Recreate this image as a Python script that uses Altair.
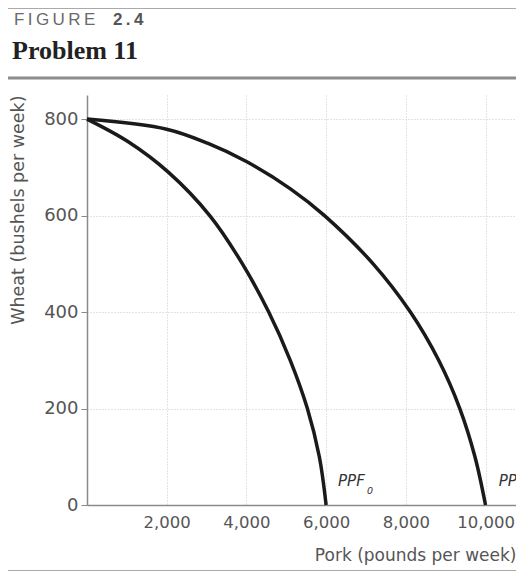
import altair as alt
import pandas as pd

# --- data ---
ppf0_pork = [0, 1016, 2040, 3080, 3900, 4560, 5100, 5530, 5830, 6000]
ppf0_wheat = [800, 754, 690, 600, 500, 400, 300, 200, 100, 0]
ppf1_pork = [0, 2000, 3024, 4000, 5114, 5960, 7180, 8115, 8825, 9355, 9735, 10000]
ppf1_wheat = [800, 779, 750, 712, 655, 600, 500, 400, 300, 200, 100, 0]

x_ticks = [2000, 4000, 6000, 8000, 10000]
y_ticks = [0, 200, 400, 600, 800]

curve_labels = ["PPF", "PPF"]
curve_subs = ["0", "1"]
label_pork = [6300, 10330]
label_wheat = [50, 50]

fig_word = ["F\u2009I\u2009G\u2009U\u2009R\u2009E"]
fig_num = ["2\u2009.\u20094"]
fig_title = ["Problem 11"]

W, H = 429, 410
PL = 79

d0 = pd.DataFrame({"pork": ppf0_pork, "wheat": ppf0_wheat, "curve": "PPF0"})
d0["idx"] = range(len(d0))
d1 = pd.DataFrame({"pork": ppf1_pork, "wheat": ppf1_wheat, "curve": "PPF1"})
d1["idx"] = range(len(d1))
lines = pd.concat([d0, d1])
labels = pd.DataFrame({"pork": label_pork, "wheat": label_wheat,
                       "txt": curve_labels, "sub": curve_subs})

xs = alt.Scale(domain=[0, 10765], nice=False)
ys = alt.Scale(domain=[0, 850], nice=False)

FONT = "DejaVu Sans"
TXT = "#555"

curves = alt.Chart(lines).mark_line(
    interpolate="catmull-rom", strokeWidth=3.5, color="#1a1a1a"
).encode(
    x=alt.X("pork:Q", scale=xs, axis=alt.Axis(
        values=x_ticks, format=",d", title="Pork (pounds per week)",
        ticks=False, labelPadding=9, labelFontSize=16.5, labelColor=TXT,
        labelFont=FONT, domainColor="#8a8a8a", domainWidth=1.5,
        grid=True, gridColor="#c8c8c8", gridDash=[1, 2], gridWidth=1,
        titleX=W, titleY=50, titleAlign="right", titleBaseline="middle",
        titleFont=FONT, titleFontSize=17, titleFontWeight="normal",
        titleColor=TXT)),
    y=alt.Y("wheat:Q", scale=ys, axis=alt.Axis(
        values=y_ticks, title="Wheat (bushels per week)",
        tickSize=6, tickColor="#8a8a8a", labelPadding=3, labelFontSize=18,
        labelColor=TXT, labelFont=FONT, domainColor="#8a8a8a",
        domainWidth=1.5, grid=True, gridColor="#c8c8c8", gridDash=[1, 2],
        gridWidth=1, titleX=-(PL - 10), titleY=0, titleAngle=-90,
        titleAlign="right", titleBaseline="middle", titleFont=FONT,
        titleFontSize=17.5, titleFontWeight="normal", titleColor=TXT)),
    detail="curve:N",
    order="idx:Q",
)

lab_main = alt.Chart(labels).mark_text(
    align="left", baseline="middle", font=FONT, fontSize=15,
    fontStyle="italic", color="#333"
).encode(x=alt.X("pork:Q", scale=xs), y=alt.Y("wheat:Q", scale=ys), text="txt:N")

lab_sub = alt.Chart(labels).mark_text(
    align="left", baseline="middle", font=FONT, fontSize=9.5,
    fontStyle="italic", color="#333", dx=29, dy=10
).encode(x=alt.X("pork:Q", scale=xs), y=alt.Y("wheat:Q", scale=ys), text="sub:N")

t1 = alt.Chart(pd.DataFrame({"t": fig_word})).mark_text(
    align="left", baseline="alphabetic", font="Liberation Sans", fontSize=17,
    color="#6a6a6a"
).encode(x=alt.value(-(PL - 6)), y=alt.value(-70), text="t:N")

t2 = alt.Chart(pd.DataFrame({"t": fig_num})).mark_text(
    align="left", baseline="alphabetic", font="Liberation Sans", fontSize=17,
    fontWeight="bold", color="#555"
).encode(x=alt.value(26), y=alt.value(-70), text="t:N")

t3 = alt.Chart(pd.DataFrame({"t": fig_title})).mark_text(
    align="left", baseline="alphabetic", font="Liberation Serif", fontSize=26,
    fontWeight="bold", color="#222"
).encode(x=alt.value(-(PL - 4)), y=alt.value(-36), text="t:N")

rule_df = pd.DataFrame({"k": [1]})
thick = alt.Chart(rule_df).mark_rule(color="#8c8c8c", strokeWidth=3).encode(
    x=alt.value(-PL), x2=alt.value(W), y=alt.value(-17))
top_line = alt.Chart(rule_df).mark_rule(color="#aaaaaa", strokeWidth=1).encode(
    x=alt.value(-PL), x2=alt.value(W), y=alt.value(-86.5))
bottom_line = alt.Chart(rule_df).mark_rule(color="#aaaaaa", strokeWidth=1).encode(
    x=alt.value(-PL), x2=alt.value(W), y=alt.value(H + 65.5))

chart = alt.layer(
    curves, lab_main, lab_sub, t1, t2, t3, thick, top_line, bottom_line
).properties(
    width=W, height=H,
    autosize=alt.AutoSizeParams(type="none"),
    padding={"left": PL, "top": 87, "right": 0, "bottom": 67},
).configure_view(stroke=None)

chart.save("out.html", embed_options={"renderer": "svg", "actions": False})
